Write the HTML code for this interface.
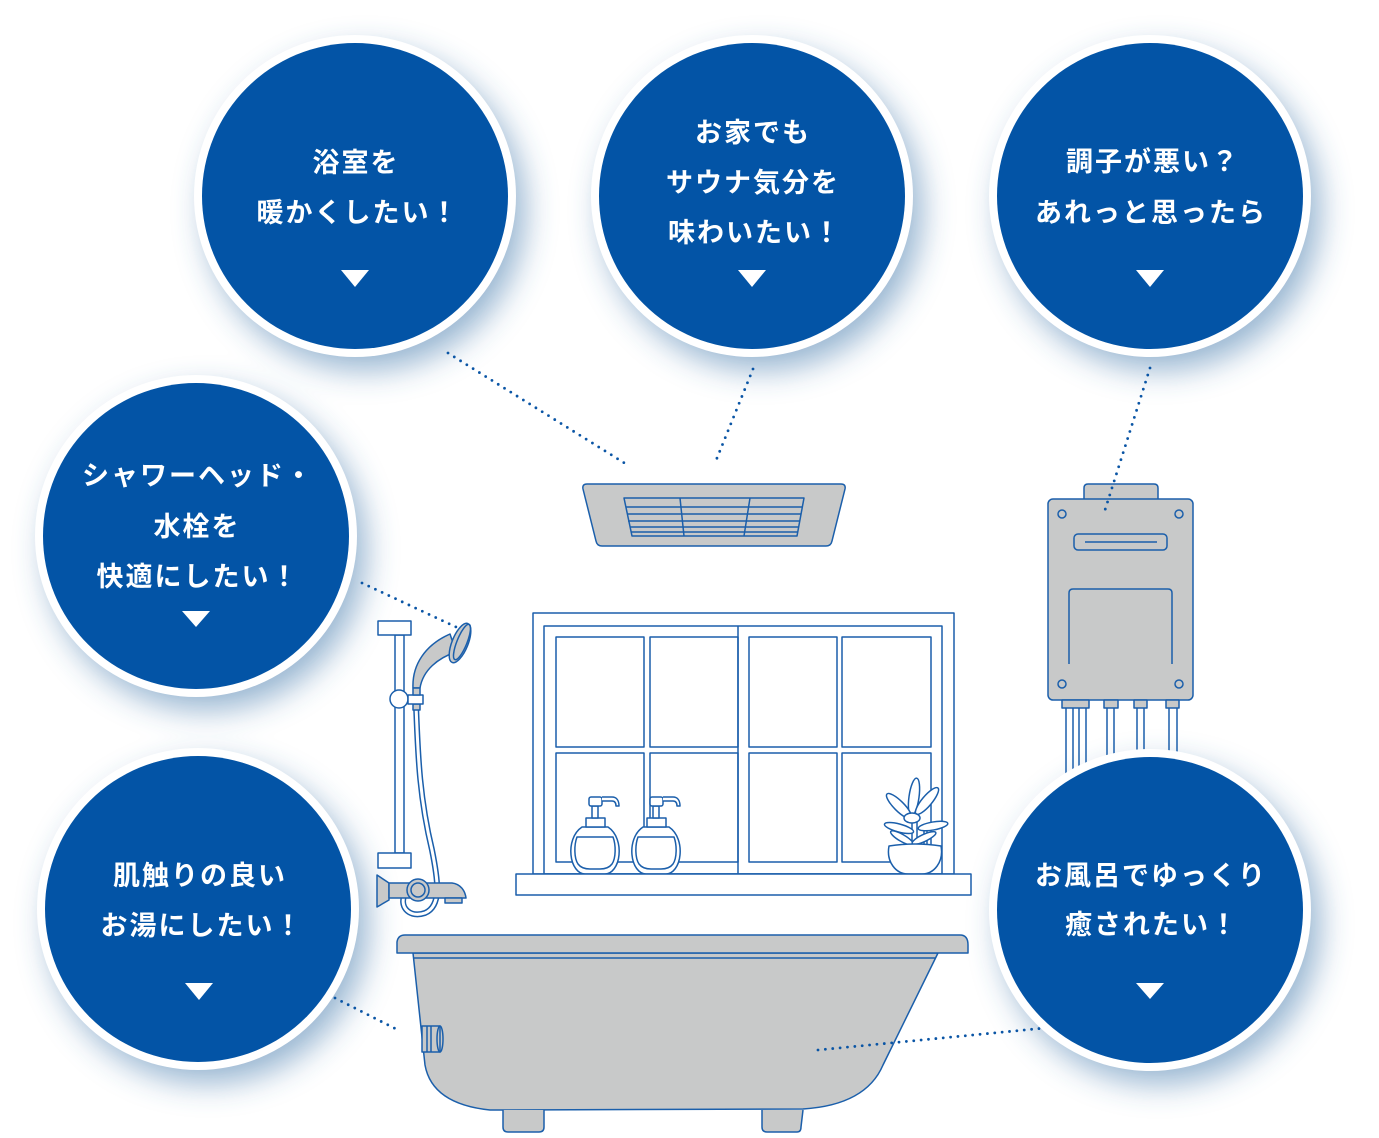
<!DOCTYPE html>
<html><head><meta charset="utf-8">
<style>
html,body{margin:0;padding:0;background:#fff;}
svg{display:block;}
.t{font-family:"Liberation Sans","Noto Sans CJK JP",sans-serif;font-size:27px;font-weight:700;fill:#fff;letter-spacing:2px;}
</style></head>
<body>
<svg width="1379" height="1138" viewBox="0 0 1379 1138" xmlns="http://www.w3.org/2000/svg">
<defs>
<filter id="sh" x="-50%" y="-50%" width="200%" height="200%"><feGaussianBlur stdDeviation="16"/></filter>
</defs>
<!-- shadows -->
<g fill="#2d6aa3" opacity="0.5" filter="url(#sh)">
<circle cx="365" cy="210" r="160"/>
<circle cx="762" cy="210" r="160"/>
<circle cx="1160" cy="210" r="160"/>
<circle cx="206" cy="550" r="160"/>
<circle cx="208" cy="923" r="160"/>
<circle cx="1160" cy="924" r="160"/>
</g>

<g stroke="#1b5fab" stroke-width="1.5" fill="none" stroke-linejoin="round">
<!-- fan -->
<path d="M587,484 L841,484 Q846,484 845,489 L832,541 Q831,546 826,546 L602,546 Q597,546 596,541 L583,489 Q582,484 587,484 Z" fill="#c8c9c9"/>
<path d="M624,498 L804,498 L797,536 L632,536 Z" fill="#c8c9c9"/>
<path d="M626,507 L802,507 M627,514 L801,514 M628,521 L800,521 M630,527 L799,527 M631,532 L798,532"/>
<path d="M680,498 L684,536 M750,498 L744,536"/>

<!-- water heater -->
<path d="M1084,500 L1084,488 Q1084,484 1088,484 L1154,484 Q1158,484 1158,488 L1158,500" fill="#c8c9c9"/>
<rect x="1048" y="499" width="145" height="201" rx="5" fill="#c8c9c9"/>
<circle cx="1062" cy="514" r="4"/><circle cx="1179" cy="514" r="4"/>
<circle cx="1062" cy="684" r="4"/><circle cx="1179" cy="684" r="4"/>
<rect x="1074" y="534" width="93" height="16" rx="4"/>
<path d="M1085,542 L1157,542"/>
<path d="M1069,664 L1069,593 Q1069,589 1073,589 L1168,589 Q1172,589 1172,593 L1172,664"/>
<rect x="1062" y="700" width="27" height="8" fill="#c8c9c9"/>
<rect x="1104" y="700" width="14" height="8" fill="#c8c9c9"/>
<rect x="1134" y="700" width="13" height="8" fill="#c8c9c9"/>
<rect x="1166" y="700" width="13" height="8" fill="#c8c9c9"/>
<path d="M1066,708 V800 M1073,708 V800 M1079,708 V800 M1086,708 V800 M1107,708 V800 M1114,708 V800 M1137,708 V800 M1144,708 V800 M1169,708 V800 M1177,708 V800"/>

<!-- window -->
<rect x="533" y="613" width="421" height="261" fill="#fff"/>
<rect x="544" y="626" width="398" height="248"/>
<path d="M738,626 V874"/>
<rect x="556" y="637" width="88" height="110"/>
<rect x="650" y="637" width="88" height="110"/>
<rect x="556" y="753" width="88" height="109"/>
<rect x="650" y="753" width="88" height="109"/>
<rect x="749" y="637" width="88" height="110"/>
<rect x="842" y="637" width="89" height="110"/>
<rect x="749" y="753" width="88" height="109"/>
<rect x="842" y="753" width="89" height="109"/>

<!-- bottles -->
<g id="bt" fill="#fff">
<path d="M582,827 L608,827 C617,833 620,845 619,855 C618,866 612,874 605,874 L585,874 C578,874 572,866 571,855 C570,845 573,833 582,827 Z"/>
<path d="M577,837 L613,837 C616,845 616,858 612,864 C609,868 605,869 600,869 L590,869 C585,869 581,868 578,864 C574,858 574,845 577,837 Z"/>
<rect x="586" y="818" width="19" height="9"/>
<rect x="592" y="806" width="6" height="12"/>
<rect x="589" y="797" width="13" height="9" rx="2"/>
<path d="M602,797 L612,797 C617,797 619,801 619,806 L616,806 C616,802 614,801 612,801 L602,801"/>
</g>
<use href="#bt" transform="translate(61,0)"/>

<!-- plant -->
<g fill="#fff">
<path d="M912,818 V846 M917,818 V846 M924,828 V846 M927,828 V846"/>
<ellipse cx="914" cy="797" rx="5" ry="19" transform="rotate(8 914 797)"/>
<ellipse cx="899" cy="806" rx="5" ry="17" transform="rotate(-45 899 806)"/>
<ellipse cx="927" cy="801" rx="5" ry="17" transform="rotate(40 927 801)"/>
<ellipse cx="899" cy="828" rx="4" ry="15" transform="rotate(-75 899 828)"/>
<ellipse cx="933" cy="826" rx="4" ry="15" transform="rotate(80 933 826)"/>
<ellipse cx="902" cy="838" rx="3.5" ry="13" transform="rotate(-60 902 838)"/>
<ellipse cx="924" cy="838" rx="3.5" ry="13" transform="rotate(65 924 838)"/>
<ellipse cx="912" cy="818" rx="8" ry="5"/>
<path d="M889,846 Q915,842 941,846 C944,862 934,874 922,874 L908,874 C896,874 886,862 889,846 Z"/>
</g>

<!-- sill -->
<rect x="516" y="874" width="455" height="21" fill="#fff"/>

<!-- shower -->
<rect x="395" y="635" width="9" height="218" fill="#fff"/>
<rect x="378" y="621" width="33" height="14" fill="#fff"/>
<rect x="378" y="853" width="33" height="15" fill="#fff"/>
<path d="M416,704 C418,760 420,800 432,850 C438,880 442,906 425,913 C410,918 400,908 404,896" stroke="#1b5fab" stroke-width="6"/>
<path d="M416,704 C418,760 420,800 432,850 C438,880 442,906 425,913 C410,918 400,908 404,896" stroke="#fff" stroke-width="3"/>
<path d="M413,688 C412,665 425,645 450,634 L456,652 C438,658 423,670 420,688 Z" fill="#c8c9c9"/>
<ellipse cx="460" cy="643" rx="8" ry="21" transform="rotate(22 460 643)" fill="#c8c9c9"/>
<ellipse cx="462" cy="642" rx="5" ry="19" transform="rotate(22 462 642)"/>
<rect x="413" y="704" width="7" height="6" fill="#c8c9c9"/>
<circle cx="399" cy="699" r="9" fill="#fff"/>
<rect x="408" y="695" width="15" height="9" fill="#fff"/>
<rect x="413" y="688" width="7" height="7" fill="#c8c9c9"/>
<path d="M377,875 L389,883 L389,900 L377,907 Z" fill="#c8c9c9"/>
<path d="M389,883 L452,883 C460,884 465,890 466,898 L389,898 Z" fill="#c8c9c9"/>
<rect x="445" y="898" width="17" height="5" fill="#c8c9c9"/>
<circle cx="418" cy="890" r="11" fill="#c8c9c9"/>
<circle cx="418" cy="890" r="7"/>

<!-- tub -->
<path d="M413,953 L938,953 L883,1065 Q866,1105 803,1109 L490,1110 Q432,1104 425,1065 Z" fill="#c8c9c9"/>
<path d="M414,958 L936,958"/>
<path d="M397,953 L397,942 Q398,935 405,935 L960,935 Q968,935 968,945 L968,953 Z" fill="#c8c9c9"/>
<path d="M503,1110 L503,1127 Q503,1132 508,1132 L539,1132 Q544,1132 544,1127 L544,1110" fill="#c8c9c9"/>
<path d="M762,1110 L762,1127 Q762,1132 767,1132 L797,1132 Q801,1132 801,1127 L803,1110" fill="#c8c9c9"/>
<rect x="422" y="1026" width="18" height="26" fill="#c8c9c9"/>
<path d="M427,1026 V1052 M431,1026 V1052"/>
<ellipse cx="440" cy="1039" rx="3" ry="13"/>
</g>

<!-- connectors -->
<g stroke="#0a55a5" stroke-width="2.8" stroke-linecap="round" stroke-dasharray="0 7.4" fill="none">
<path d="M448,353 L626,464"/>
<path d="M753,369 L715,463"/>
<path d="M1150,368 L1105,510"/>
<path d="M362,583 L456,627"/>
<path d="M335,998 L398,1030"/>
<path d="M818,1050 L1045,1028"/>
</g>

<!-- circles -->
<g fill="#fff">
<circle cx="355" cy="196" r="161"/>
<circle cx="752" cy="196" r="161"/>
<circle cx="1150" cy="196" r="161"/>
<circle cx="196" cy="536" r="161"/>
<circle cx="198" cy="909" r="161"/>
<circle cx="1150" cy="910" r="161"/>
</g>
<g fill="#0354a6">
<circle cx="355" cy="196" r="153"/>
<circle cx="752" cy="196" r="153"/>
<circle cx="1150" cy="196" r="153"/>
<circle cx="196" cy="536" r="153"/>
<circle cx="198" cy="909" r="153"/>
<circle cx="1150" cy="910" r="153"/>
</g>

<g class="t" text-anchor="middle" dominant-baseline="central">
<text x="356" y="163">浴室を</text>
<text x="358" y="213">暖かくしたい！</text>
<text x="753" y="133">お家でも</text>
<text x="753" y="183">サウナ気分を</text>
<text x="755" y="233">味わいたい！</text>
<text x="1153" y="162">調子が悪い？</text>
<text x="1151" y="213">あれっと思ったら</text>
<text x="198" y="476">シャワーヘッド・</text>
<text x="197" y="527">水栓を</text>
<text x="198" y="577">快適にしたい！</text>
<text x="200" y="876">肌触りの良い</text>
<text x="202" y="926">お湯にしたい！</text>
<text x="1151" y="876">お風呂でゆっくり</text>
<text x="1152" y="925">癒されたい！</text>
</g>

<g fill="#fff">
<path d="M341,270 L369,270 L355,287 Z"/>
<path d="M738,270 L766,270 L752,287 Z"/>
<path d="M1136,270 L1164,270 L1150,287 Z"/>
<path d="M182,611 L210,611 L196,627 Z"/>
<path d="M185,983 L213,983 L199,1000 Z"/>
<path d="M1136,983 L1164,983 L1150,999 Z"/>
</g>
</svg>
</body></html>
